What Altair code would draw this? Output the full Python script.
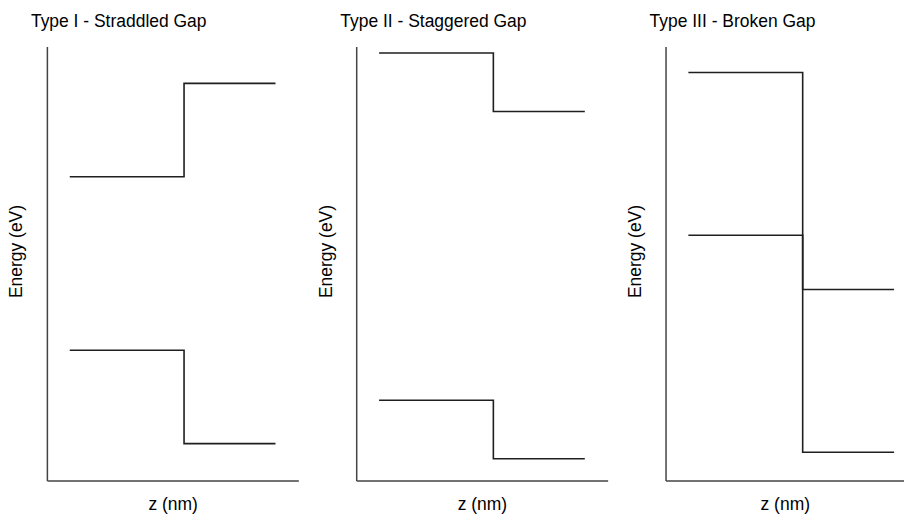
import altair as alt
import pandas as pd

# Band-edge diagrams for the three heterojunction alignment types
titles = ["Type I - Straddled Gap", "Type II - Staggered Gap", "Type III - Broken Gap"]
z_points = [1, 6, 10]          # left edge, interface, right edge (nm)
cb_left = [7.0, 9.85, 9.4]     # upper band, left material (eV)
cb_right = [9.15, 8.5, 4.4]    # upper band, right material (eV)
vb_left = [3.0, 1.85, 5.65]    # lower band, left material (eV)
vb_right = [0.85, 0.5, 0.65]   # lower band, right material (eV)

FONT = "Liberation Sans"
FONT_SIZE = 17.5
PLOT_H = 435


def band_rows(i):
    rows = []
    for band, left, right in (("cb", cb_left[i], cb_right[i]), ("vb", vb_left[i], vb_right[i])):
        for z, e in zip(z_points, [left, right, right]):
            rows.append({"band": band, "z": z, "energy": e})
    return pd.DataFrame(rows)


def panel(i, width, zmax):
    axis_common = dict(
        labels=False, ticks=False, grid=False,
        domainColor="#444444", domainWidth=1.5,
        titleFont=FONT, titleFontSize=FONT_SIZE, titleFontWeight="normal", titleColor="#000000",
    )
    return (
        alt.Chart(band_rows(i))
        .mark_line(interpolate="step-after", color="#1f1f1f", strokeWidth=1.6)
        .encode(
            x=alt.X("z:Q", scale=alt.Scale(domain=[0, zmax], nice=False, zero=False),
                    axis=alt.Axis(title="z (nm)", titlePadding=15, **axis_common)),
            y=alt.Y("energy:Q", scale=alt.Scale(domain=[0, 10], nice=False),
                    axis=alt.Axis(title="Energy (eV)", titlePadding=21, titleY=205, **axis_common)),
            detail="band:N",
        )
        .properties(
            width=width, height=PLOT_H,
            title=alt.TitleParams(titles[i], anchor="start", frame="group", dx=-16, offset=16,
                                  font=FONT, fontSize=FONT_SIZE, fontWeight="normal", color="#000000"),
        )
    )


chart = (
    alt.hconcat(panel(0, 252, 11), panel(1, 252, 11), panel(2, 239, 11 * 239 / 252), spacing=19)
    .properties(padding={"left": 8, "top": 12, "right": 0, "bottom": 0}, background="white")
    .configure_view(stroke=None)
)

chart.save("out.html", embed_options={"renderer": "svg", "actions": False})
